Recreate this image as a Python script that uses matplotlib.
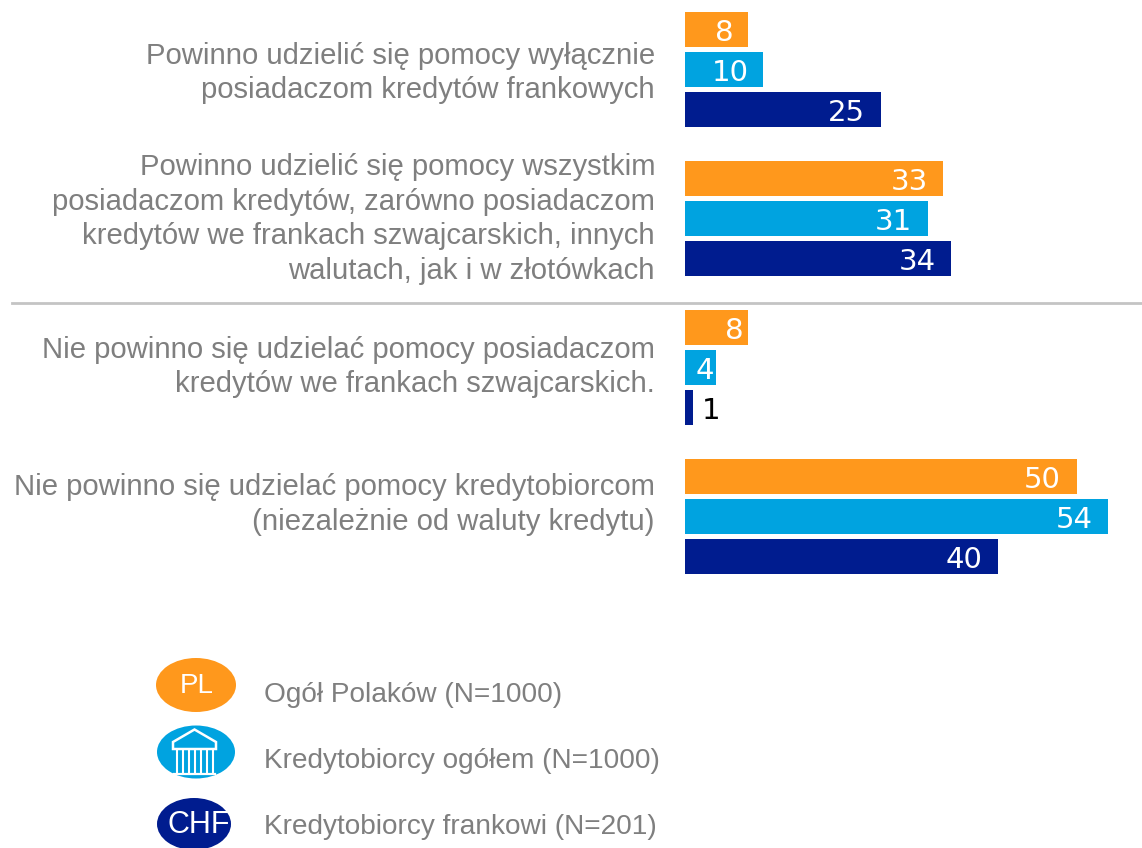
import numpy as np
import matplotlib
matplotlib.use("Agg")
import matplotlib.pyplot as plt
from matplotlib.patches import Ellipse, Polygon

categories = [
    ["Powinno udzielić się pomocy wyłącznie", "posiadaczom kredytów frankowych"],
    ["Powinno udzielić się pomocy wszystkim", "posiadaczom kredytów, zarówno posiadaczom",
     "kredytów we frankach szwajcarskich, innych", "walutach, jak i w złotówkach"],
    ["Nie powinno się udzielać pomocy posiadaczom", "kredytów we frankach szwajcarskich."],
    ["Nie powinno się udzielać pomocy kredytobiorcom", "(niezależnie od waluty kredytu)"],
]
series_names = ["Ogół Polaków (N=1000)", "Kredytobiorcy ogółem (N=1000)", "Kredytobiorcy frankowi (N=201)"]
pl = [8, 33, 8, 50]
kredytobiorcy = [10, 31, 4, 54]
chf = [25, 34, 1, 40]

colors = ["#FF981C", "#00A3E0", "#001C8F"]
grey = "#7F7F7F"
W, H = 1142, 848

fig = plt.figure(figsize=(W / 100, H / 100), dpi=100)
plt.rcParams["font.family"] = ["Liberation Sans", "DejaVu Sans"]

# bars: one y unit = one group (149 px), x unit = 7.83 px
ax = fig.add_axes([685 / W, 0, 1 - 685 / W, 1])
ax.set_xlim(0, (W - 685) / 7.83)
ax.set_ylim((H - 69.5) / 149, -69.5 / 149)
ax.axis("off")

# label shift from the usual right-aligned spot, in px (the source is not consistent)
shifts = {(0, 0): 1, (0, 1): 1, (2, 0): 11, (2, 1): 13}

y = np.arange(len(categories))
for s, vals in enumerate([pl, kredytobiorcy, chf]):
    offs = y + (s - 1) * 40 / 149
    ax.barh(offs, vals, height=35 / 149, color=colors[s], linewidth=0)
    for g, v in enumerate(vals):
        if v < 2:
            ax.annotate(str(v), (v, offs[g]), xytext=(9, -3.5), textcoords="offset pixels",
                        ha="left", va="center", fontsize=21, family="DejaVu Sans", color="black")
        else:
            ax.annotate(str(v), (v, offs[g]), xytext=(-15.5 + shifts.get((g, s), 0), -3.5),
                        textcoords="offset pixels", ha="right", va="center",
                        fontsize=21, family="DejaVu Sans", color="white")

# overlay in pixel coordinates for the labels and legend
ov = fig.add_axes([0, 0, 1, 1], zorder=-1)
ov.set_xlim(0, W)
ov.set_ylim(H, 0)
ov.axis("off")

line_y = [[56, 90], [167, 202, 236, 271], [350, 384], [487, 522]]
for lines, ys in zip(categories, line_y):
    for line, yy in zip(lines, ys):
        ov.text(655, yy, line, ha="right", va="center", fontsize=21.1, color=grey)

ov.plot([12, W], [303, 303], color="#C4C4C4", lw=2)

# legend
ov.add_patch(Ellipse((196, 685), 80, 54, color=colors[0], lw=0))
ov.add_patch(Ellipse((196, 752), 78, 53, color=colors[1], lw=0))
ov.add_patch(Ellipse((194, 824), 74, 52, color=colors[2], lw=0))
ov.text(197, 686, "PL", ha="center", va="center", fontsize=20, color="white")
ov.text(199, 825, "CHF", ha="center", va="center", fontsize=22, color="white")

# bank icon
ov.add_patch(Polygon([(194.5, 729.5), (173, 742), (173, 749), (216, 749), (216, 742)],
                     closed=True, fc="none", ec="white", lw=1.8))
for cx in [177, 183, 189, 195, 201, 207, 213]:
    ov.plot([cx, cx], [750, 772], color="white", lw=1.5)
ov.plot([174, 215], [773.5, 773.5], color="white", lw=1.6)

for name, yy in zip(series_names, [695, 761, 827]):
    ov.text(264, yy, name, ha="left", va="center", fontsize=20.2, color=grey)

fig.savefig("out.png", dpi=100, facecolor="white")
